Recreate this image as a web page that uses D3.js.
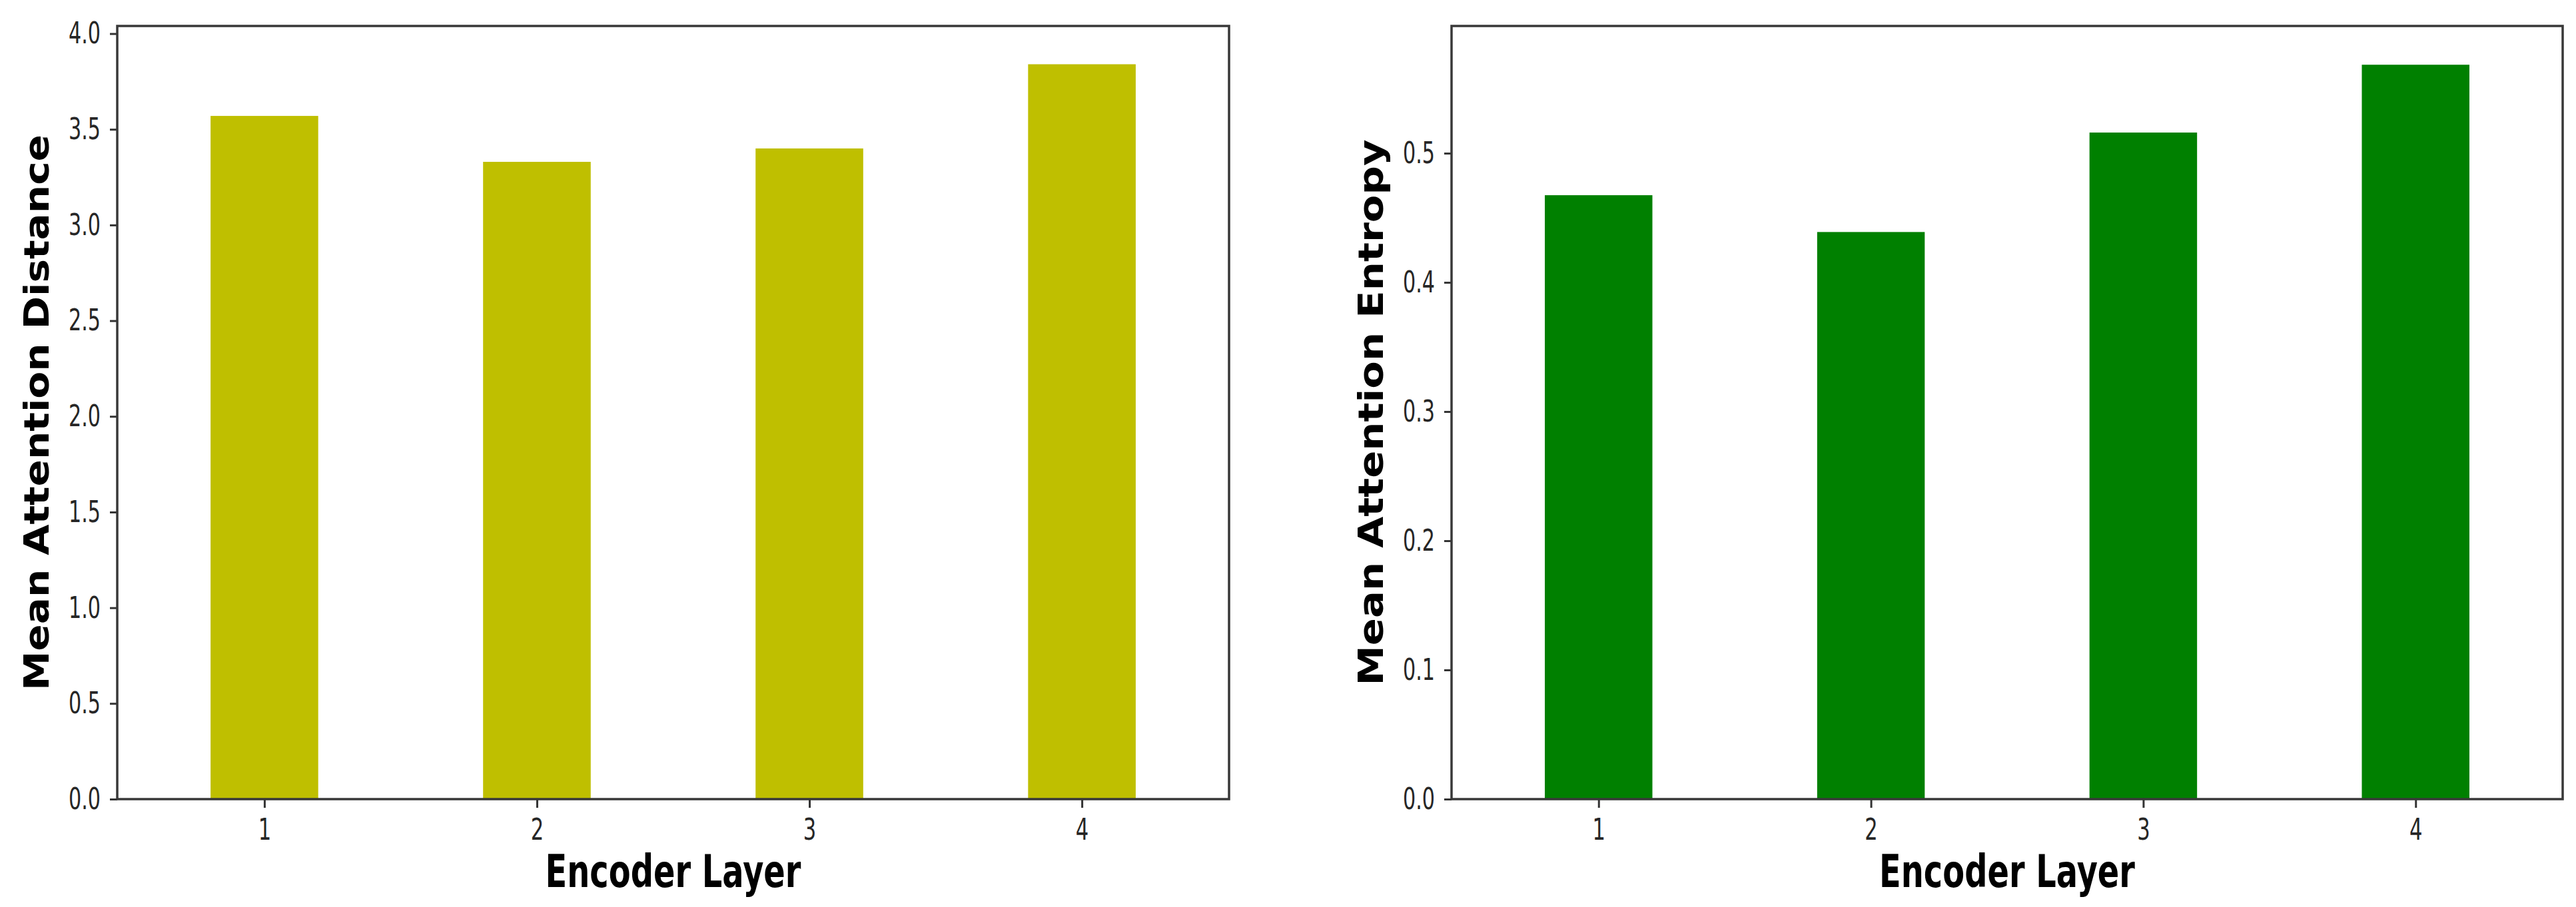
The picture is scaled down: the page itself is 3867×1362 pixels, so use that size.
<!DOCTYPE html>
<html>
<head>
<meta charset="utf-8">
<script src="https://cdn.jsdelivr.net/npm/d3@7"></script>
<style>
  html, body { margin: 0; padding: 0; background: #ffffff; }
  svg { display: block; }
</style>
</head>
<body>
<script>
// ---- data ----
const layers = [1, 2, 3, 4];
const distanceValues = [3.57, 3.33, 3.40, 3.84];
const entropyValues = [0.4675, 0.439, 0.516, 0.5685];
const distanceTicks = [0.0, 0.5, 1.0, 1.5, 2.0, 2.5, 3.0, 3.5, 4.0];
const entropyTicks = [0.0, 0.1, 0.2, 0.3, 0.4, 0.5];
const xLabel = "Encoder Layer";
const distanceLabel = "Mean Attention Distance";
const entropyLabel = "Mean Attention Entropy";

const W = 3867, H = 1362;
const svg = d3.select("body").append("svg").attr("width", W).attr("height", H);
svg.append("rect").attr("width", W).attr("height", H).attr("fill", "#ffffff");

const panels = [
  { left: 176, right: 1845, values: distanceValues, ticks: distanceTicks, yMax: 4.04,
    color: "#bfbf00", ylabel: distanceLabel, ylabelLen: 835 },
  { left: 2179, right: 3847, values: entropyValues, ticks: entropyTicks, yMax: 0.5985,
    color: "#008000", ylabel: entropyLabel, ylabelLen: 820 }
];
const plotTop = 39, plotBottom = 1200;

function condense(sel, factor) {
  sel.each(function () {
    const len = this.getComputedTextLength();
    d3.select(this).attr("textLength", len * factor).attr("lengthAdjust", "spacingAndGlyphs");
  });
}

panels.forEach(p => {
  const x = d3.scaleLinear().domain([0.46, 4.54]).range([p.left, p.right]);
  const y = d3.scaleLinear().domain([0, p.yMax]).range([plotBottom, plotTop]);
  const g = svg.append("g");
  const bw = x(1.395) - x(1);

  g.selectAll("rect.bar").data(p.values).join("rect")
    .attr("class", "bar")
    .attr("x", (d, i) => x(layers[i]) - bw / 2)
    .attr("width", bw)
    .attr("y", d => y(d))
    .attr("height", d => y(0) - y(d))
    .attr("fill", p.color);

  const xAxis = g.append("g").attr("transform", `translate(0,${plotBottom})`)
    .call(d3.axisBottom(x).tickValues(layers).tickFormat(d3.format("d")).tickSize(13).tickPadding(16));
  const yAxis = g.append("g").attr("transform", `translate(${p.left},0)`)
    .call(d3.axisLeft(y).tickValues(p.ticks).tickFormat(d3.format(".1f")).tickSize(11).tickPadding(14));

  [xAxis, yAxis].forEach(a => {
    a.select(".domain").remove();
    a.selectAll(".tick line").attr("stroke", "#333").attr("stroke-width", 3);
    a.selectAll(".tick text")
      .attr("fill", "#262626")
      .style("font-family", "'DejaVu Sans', sans-serif")
      .style("font-size", "45px");
  });
  condense(xAxis.selectAll(".tick text"), 0.68);
  condense(yAxis.selectAll(".tick text"), 0.67);

  // frame
  g.append("rect")
    .attr("x", p.left).attr("y", plotTop)
    .attr("width", p.right - p.left).attr("height", plotBottom - plotTop)
    .attr("fill", "none").attr("stroke", "#383838").attr("stroke-width", 3.5);

  // x label
  g.append("text")
    .attr("x", (p.left + p.right) / 2).attr("y", 1332)
    .attr("text-anchor", "middle")
    .style("font-family", "'DejaVu Sans', sans-serif")
    .style("font-weight", "bold").style("font-size", "68px")
    .attr("fill", "#000")
    .attr("textLength", 384).attr("lengthAdjust", "spacingAndGlyphs")
    .text(xLabel);

  // y label
  g.append("text")
    .attr("transform", `translate(${p.left - 103},${(plotTop + plotBottom) / 2}) rotate(-90)`)
    .attr("text-anchor", "middle")
    .style("font-family", "'DejaVu Sans', sans-serif")
    .style("font-weight", "bold").style("font-size", "52px")
    .attr("fill", "#000")
    .attr("textLength", p.ylabelLen).attr("lengthAdjust", "spacingAndGlyphs")
    .text(p.ylabel);
});
</script>
</body>
</html>
